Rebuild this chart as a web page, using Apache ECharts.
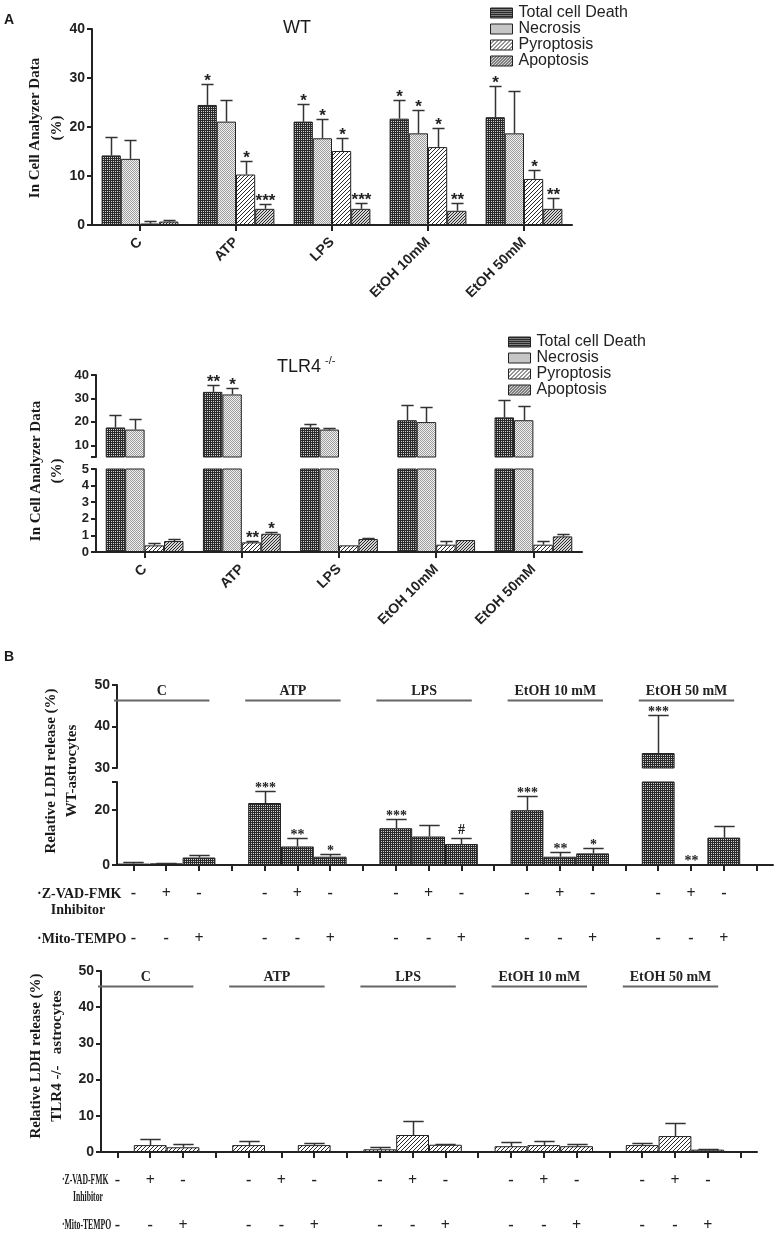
<!DOCTYPE html>
<html><head><meta charset="utf-8">
<script src="https://cdn.jsdelivr.net/npm/echarts@6/dist/echarts.min.js"></script>
<style>html,body{margin:0;padding:0;background:#fff}#c{width:774px;height:1234px}</style>
</head><body><div id="c"></div>
<script>
// ---------- DATA ----------
const catsA = ['C', 'ATP', 'LPS', 'EtOH 10mM', 'EtOH 50mM'];
const legendNames = ['Total cell Death', 'Necrosis', 'Pyroptosis', 'Apoptosis'];

// Panel A - WT
const wtTotal = [14.2, 24.5, 21.1, 21.7, 22.0];
const wtTotalErr = [17.9, 28.7, 24.7, 25.5, 28.3];
const wtTotalSig = ['', '*', '*', '*', '*'];
const wtNecrosis = [13.5, 21.1, 17.7, 18.7, 18.7];
const wtNecrosisErr = [17.3, 25.5, 21.7, 23.5, 27.3];
const wtNecrosisSig = ['', '', '*', '*', ''];
const wtPyroptosis = [0.3, 10.3, 15.1, 15.9, 9.4];
const wtPyroptosisErr = [0.8, 13.1, 17.7, 19.7, 11.3];
const wtPyroptosisSig = ['', '*', '*', '*', '*'];
const wtApoptosis = [0.7, 3.3, 3.3, 2.9, 3.3];
const wtApoptosisErr = [1.0, 4.3, 4.4, 4.5, 5.6];
const wtApoptosisSig = ['', '***', '***', '**', '**'];

// Panel A - TLR4-/-
const tlrTotal = [17.6, 32.8, 17.6, 20.7, 21.9];
const tlrTotalErr = [22.9, 35.7, 19.0, 27.1, 29.3];
const tlrTotalSig = ['', '**', '', '', ''];
const tlrNecrosis = [16.7, 31.7, 16.7, 19.9, 20.7];
const tlrNecrosisErr = [21.4, 34.6, 17.4, 26.4, 26.7];
const tlrNecrosisSig = ['', '*', '', '', ''];
const tlrPyroptosis = [0.40, 0.58, 0.40, 0.44, 0.44];
const tlrPyroptosisErr = [0.54, 0.68, 0.40, 0.66, 0.66];
const tlrPyroptosisSig = ['', '**', '', '', ''];
const tlrApoptosis = [0.66, 1.10, 0.78, 0.72, 0.94];
const tlrApoptosisErr = [0.78, 1.20, 0.84, 0.72, 1.10];
const tlrApoptosisSig = ['', '*', '', '', ''];

// Panel B
const groupsB = ['C', 'ATP', 'LPS', 'EtOH 10 mM', 'EtOH 50 mM'];
const zvadSigns = ['-', '+', '-'];
const mitoSigns = ['-', '-', '+'];
const wtLdh = [0.5, 0.6, 2.7, 22.4, 6.7, 3.0, 13.3, 10.3, 7.6, 19.8, 3.0, 4.2, 33.6, 0.2, 9.9];
const wtLdhErr = [1.0, 0.9, 3.7, 26.7, 9.6, 4.0, 16.8, 14.5, 9.9, 24.8, 4.6, 6.1, 42.8, 0.2, 14.2];
const wtLdhSig = ['', '', '', '***', '**', '*', '***', '', '#', '***', '**', '*', '***', '**', ''];
const tlrLdh = [null, 1.9, 1.3, 1.9, null, 1.9, 0.75, 4.7, 2.0, 1.6, 1.9, 1.6, 1.9, 4.4, 0.65];
const tlrLdhErr = [null, 3.6, 2.1, 3.1, null, 2.6, 1.4, 8.7, 2.3, 2.8, 3.1, 2.1, 2.6, 8.1, 0.9];

// ---------- HELPERS ----------
const SANS = 'Liberation Sans', SERIF = 'Liberation Serif';
function makePat(kind) {
  const c = document.createElement('canvas');
  const n = kind === 'hatch' ? 4 : kind === 'hatch2' ? 3 : 2;
  c.width = c.height = n;
  const g = c.getContext('2d');
  if (kind === 'dark') {
    g.fillStyle = '#2a2a2a'; g.fillRect(0, 0, 2, 2);
    g.fillStyle = '#d0d0d0'; g.fillRect(1, 1, 1, 1);
  } else if (kind === 'light') {
    g.fillStyle = '#f0f0f0'; g.fillRect(0, 0, 2, 2);
    g.fillStyle = '#9c9c9c'; g.fillRect(0, 0, 1, 1); g.fillRect(1, 1, 1, 1);
  } else {
    g.fillStyle = kind === 'hatch' ? '#ffffff' : '#d4d4d4'; g.fillRect(0, 0, n, n);
    g.fillStyle = '#2a2a2a';
    for (let x = 0; x < n; x++) for (let y = 0; y < n; y++) if ((x + y) % n === n - 1) g.fillRect(x, y, 1, 1);
  }
  return { image: c, repeat: 'repeat' };
}
const pats = { dark: makePat('dark'), light: makePat('light'), hatch: makePat('hatch'), hatch2: makePat('hatch2') };
const fillsA = [pats.dark, pats.light, pats.hatch, pats.hatch2];

function toSlots(arr) {
  const out = [];
  groupsB.forEach((g, k) => { out.push(arr[3 * k], arr[3 * k + 1], arr[3 * k + 2], null); });
  return out;
}
const catsB = [];
groupsB.forEach(g => { catsB.push(g + ' 1', g + ' 2', g + ' 3', g + ' gap'); });

function errSeries(xi, yi, vals, errs, sigs, slot, nSlots, frac, keep, starFont, capFrac) {
  const items = [];
  vals.forEach((v, i) => {
    if (v == null || !keep(v)) return;
    items.push({ i: i, v: v, e: errs[i], s: sigs ? sigs[i] : '' });
  });
  return {
    type: 'custom', xAxisIndex: xi, yAxisIndex: yi, silent: true, z: 4, clip: false,
    data: items.map(d => [d.i, d.v, d.e]),
    renderItem: function (params, api) {
      const d = items[params.dataIndex];
      const band = api.size([1, 0])[0];
      const bw = band * frac;
      const p = api.coord([d.i, d.v]);
      const cx = Math.round(p[0] + (slot - (nSlots - 1) / 2) * bw) + 0.5;
      const yv = p[1];
      const ye = Math.round(api.coord([d.i, d.e])[1]) + 0.5;
      const ch = [];
      const half = bw * capFrac / 2;
      if (d.e > d.v) {
        ch.push({ type: 'line', shape: { x1: cx, y1: yv, x2: cx, y2: ye }, style: { stroke: '#333', lineWidth: 1.5 } });
        ch.push({ type: 'line', shape: { x1: cx - half, y1: ye, x2: cx + half, y2: ye }, style: { stroke: '#333', lineWidth: 1.5 } });
      }
      if (d.s) {
        const top = Math.min(ye, yv);
        const off = d.s.indexOf('#') >= 0 ? 8 : 3;
        ch.push({ type: 'text', style: { text: d.s, x: cx, y: top - off, font: starFont, fill: '#222', align: 'center', verticalAlign: 'middle' } });
      }
      return { type: 'group', children: ch };
    }
  };
}

function yAx(gi, min, max, interval, opts) {
  opts = opts || {};
  const ax = {
    type: 'value', gridIndex: gi, min: min, max: max,
    axisLine: { show: true, lineStyle: { color: '#222', width: 2 } },
    axisTick: { show: true, length: 5, lineStyle: { color: '#222', width: 2 } },
    axisLabel: { color: '#222', fontFamily: SANS, fontWeight: 'bold', fontSize: opts.fs || 14, margin: 7 },
    splitLine: { show: false }
  };
  if (interval != null) ax.interval = interval;
  if (opts.labels) ax.axisLabel.customValues = opts.labels;
  if (opts.ticks) ax.axisTick.customValues = opts.ticks;
  return ax;
}
function xAx(gi, data, opts) {
  opts = opts || {};
  return {
    type: 'category', gridIndex: gi, data: data, show: opts.show !== false,
    axisLine: { show: true, lineStyle: { color: '#222', width: 2 } },
    axisTick: { show: true, alignWithLabel: true, interval: 0, length: 6, lineStyle: { color: '#222', width: 2 } },
    axisLabel: opts.labels ? { show: true, interval: 0, rotate: 45, margin: 15, color: '#222', fontFamily: SANS, fontWeight: 'bold', fontSize: 14 } : { show: false },
    splitLine: { show: false }
  };
}

// ---------- SERIES ----------
const series = [];
const starA = 'bold 17px ' + SANS;
const starB = 'bold 14px ' + SERIF;
const any = () => true;

const wtV = [wtTotal, wtNecrosis, wtPyroptosis, wtApoptosis];
const wtE = [wtTotalErr, wtNecrosisErr, wtPyroptosisErr, wtApoptosisErr];
const wtS = [wtTotalSig, wtNecrosisSig, wtPyroptosisSig, wtApoptosisSig];
const tlV = [tlrTotal, tlrNecrosis, tlrPyroptosis, tlrApoptosis];
const tlE = [tlrTotalErr, tlrNecrosisErr, tlrPyroptosisErr, tlrApoptosisErr];
const tlS = [tlrTotalSig, tlrNecrosisSig, tlrPyroptosisSig, tlrApoptosisSig];

for (let k = 0; k < 4; k++) {
  const st = { color: fillsA[k], borderColor: '#222', borderWidth: 1 };
  series.push({ type: 'bar', name: legendNames[k], xAxisIndex: 0, yAxisIndex: 0, data: wtV[k], barWidth: '20%', barGap: '0%', itemStyle: st, silent: true });
  series.push({ type: 'bar', name: legendNames[k], xAxisIndex: 1, yAxisIndex: 1, data: tlV[k], barWidth: '20%', barGap: '0%', itemStyle: st, silent: true, clip: true });
  series.push({ type: 'bar', name: legendNames[k], xAxisIndex: 2, yAxisIndex: 2, data: tlV[k], barWidth: '20%', barGap: '0%', itemStyle: st, silent: true, clip: true });
}
for (let k = 0; k < 4; k++) {
  series.push(errSeries(0, 0, wtV[k], wtE[k], wtS[k], k, 4, 0.2, any, starA, 0.63));
  series.push(errSeries(1, 1, tlV[k], tlE[k], tlS[k], k, 4, 0.2, v => v >= 5, starA, 0.63));
  series.push(errSeries(2, 2, tlV[k], tlE[k], tlS[k], k, 4, 0.2, v => v < 5, starA, 0.63));
}

const wtB = toSlots(wtLdh), wtBE = toSlots(wtLdhErr), wtBS = toSlots(wtLdhSig);
const tlB = toSlots(tlrLdh), tlBE = toSlots(tlrLdhErr);
const stB = { color: pats.dark, borderColor: '#222', borderWidth: 1 };
const stT = { color: pats.hatch, borderColor: '#222', borderWidth: 1 };
series.push({ type: 'bar', name: 'WT LDH', xAxisIndex: 3, yAxisIndex: 3, data: wtB, barWidth: '100%', itemStyle: stB, silent: true, clip: true });
series.push({ type: 'bar', name: 'WT LDH', xAxisIndex: 4, yAxisIndex: 4, data: wtB, barWidth: '100%', itemStyle: stB, silent: true, clip: true });
series.push({ type: 'bar', name: 'TLR4 LDH', xAxisIndex: 5, yAxisIndex: 5, data: tlB, barWidth: '100%', itemStyle: stT, silent: true, clip: true });
series.push(errSeries(3, 3, wtB, wtBE, wtBS, 0, 1, 1, v => v >= 30, starB, 0.62));
series.push(errSeries(4, 4, wtB, wtBE, wtBS, 0, 1, 1, v => v < 30, starB, 0.62));
series.push(errSeries(5, 5, tlB, tlBE, null, 0, 1, 1, any, starB, 0.62));

// group header lines
function headerSeries(xi, yi) {
  return {
    type: 'custom', xAxisIndex: xi, yAxisIndex: yi, clip: false, silent: true, z: 3,
    data: groupsB.map((g, k) => [4 * k + 1, 40]),
    renderItem: function (params, api) {
      const k = params.dataIndex;
      const band = api.size([1, 0])[0];
      const c = api.coord([4 * k + 1, 40])[0];
      const y = params.coordSys.y + 15.5;
      const x1 = c - 1.5 * band - 3, x2 = c + 1.5 * band - 6;
      return { type: 'group', children: [
        { type: 'line', shape: { x1: x1, y1: y, x2: x2, y2: y }, style: { stroke: '#666', lineWidth: 2 } },
        { type: 'text', style: { text: groupsB[k], x: (x1 + x2) / 2, y: y - 9, font: 'bold 14px ' + SERIF, fill: '#222', align: 'center', verticalAlign: 'middle' } }
      ] };
    }
  };
}
series.push(headerSeries(3, 3));
series.push(headerSeries(5, 5));

// +/- rows
function signSeries(xi, yi) {
  const slots = [];
  catsB.forEach((c, i) => { if (i % 4 !== 3) slots.push([i, 0]); });
  return {
    type: 'custom', xAxisIndex: xi, yAxisIndex: yi, clip: false, silent: true, z: 3,
    data: slots,
    renderItem: function (params, api) {
      const i = slots[params.dataIndex][0];
      const x = api.coord([i, 0])[0];
      const yb = params.coordSys.y + params.coordSys.height;
      const f = 'bold 16px ' + SERIF;
      return { type: 'group', children: [
        { type: 'text', style: { text: zvadSigns[i % 4], x: x, y: yb + 29, font: f, fill: '#222', align: 'center', verticalAlign: 'middle' } },
        { type: 'text', style: { text: mitoSigns[i % 4], x: x, y: yb + 74, font: f, fill: '#222', align: 'center', verticalAlign: 'middle' } }
      ] };
    }
  };
}
series.push(signSeries(4, 4));
series.push(signSeries(5, 5));

// ---------- TEXT ----------
function txt(x, y, text, font, opts) {
  opts = opts || {};
  return { type: 'text', x: x, y: y, rotation: opts.rot || 0, scaleX: opts.sx || 1, silent: true,
    style: { text: text, font: font, fill: '#1a1a1a', align: opts.align || 'left', verticalAlign: 'middle', lineHeight: opts.lh } };
}
const yNameFont = 'bold 15px ' + SERIF;
const graphics = [
  txt(4, 20, 'A', 'bold 14px ' + SANS),
  txt(4, 657, 'B', 'bold 14px ' + SANS),
  txt(297, 28, 'WT', '18px ' + SANS, { align: 'center' }),
  txt(277, 367, 'TLR4', '18px ' + SANS),
  txt(325, 361, '-/-', '11px ' + SANS),
  txt(46, 128, 'In Cell Analyzer Data\n(%)', yNameFont, { rot: Math.PI / 2, align: 'center', lh: 22 }),
  txt(47, 471, 'In Cell Analyzer Data\n(%)', yNameFont, { rot: Math.PI / 2, align: 'center', lh: 21 }),
  txt(62, 771, 'Relative LDH release (%)\nWT-astrocytes', yNameFont, { rot: Math.PI / 2, align: 'center', lh: 21 }),
  txt(47, 1056, 'Relative LDH release (%)\nTLR4 -/-   astrocytes', yNameFont, { rot: Math.PI / 2, align: 'center', lh: 21 }),
  txt(37, 894, '·Z-VAD-FMK', 'bold 14px ' + SERIF),
  txt(78, 910, 'Inhibitor', 'bold 14px ' + SERIF, { align: 'center' }),
  txt(37, 939, '·Mito-TEMPO', 'bold 14px ' + SERIF),
  txt(62, 1180, '·Z-VAD-FMK', 'bold 14px ' + SERIF, { sx: 0.55 }),
  txt(73, 1197, 'Inhibitor', 'bold 14px ' + SERIF, { sx: 0.55 }),
  txt(62, 1225, '·Mito-TEMPO', 'bold 14px ' + SERIF, { sx: 0.55 })
];

// ---------- OPTION ----------
const legendBase = {
  orient: 'vertical', icon: 'rect', itemWidth: 22, itemHeight: 10, itemGap: 0, selectedMode: false,
  data: legendNames,
  itemStyle: { borderColor: '#222', borderWidth: 1 }
};
const option = {
  animation: false,
  backgroundColor: '#fff',
  legend: [
    Object.assign({}, legendBase, { left: 485, top: 0, textStyle: { fontFamily: SANS, fontSize: 16, color: '#222', lineHeight: 16, padding: [0, 0, 0, 1] } }),
    Object.assign({}, legendBase, { left: 503, top: 329, textStyle: { fontFamily: SANS, fontSize: 16, color: '#222', lineHeight: 14.3, padding: [0, 0, 0, 1] } })
  ],
  grid: [
    { left: 92, top: 29, width: 480, height: 196 },
    { left: 96, top: 375, width: 486, height: 82 },
    { left: 96, top: 469, width: 486, height: 83 },
    { left: 117, top: 685, width: 656, height: 83 },
    { left: 117, top: 782, width: 656, height: 83 },
    { left: 101, top: 971, width: 656, height: 181 }
  ],
  xAxis: [
    xAx(0, catsA, { labels: true }),
    xAx(1, catsA, { show: false }),
    xAx(2, catsA, { labels: true }),
    xAx(3, catsB, { show: false }),
    xAx(4, catsB, {}),
    xAx(5, catsB, {})
  ],
  yAxis: [
    yAx(0, 0, 40, 10),
    yAx(1, 5, 40, null, { fs: 13, labels: [10, 20, 30, 40], ticks: [5, 10, 20, 30, 40] }),
    yAx(2, 0, 5, 1, { fs: 13 }),
    yAx(3, 30, 50, 10),
    yAx(4, 0, 30, null, { labels: [0, 20], ticks: [0, 20, 30] }),
    yAx(5, 0, 50, 10)
  ],
  series: series,
  graphic: graphics
};
const chart = echarts.init(document.getElementById('c'), null, { renderer: 'canvas' });
chart.setOption(option);
</script></body></html>
